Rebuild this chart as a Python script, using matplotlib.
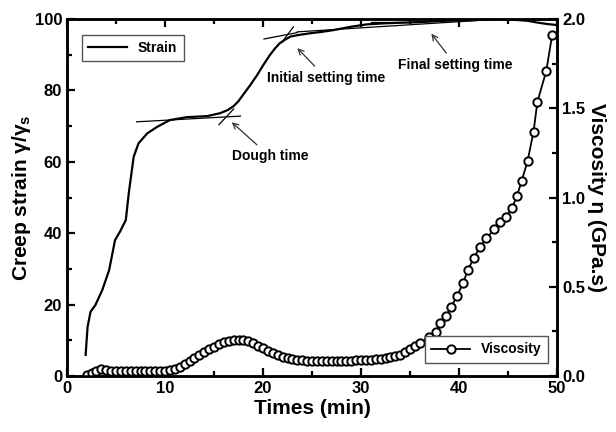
import matplotlib
matplotlib.use("Agg")
import matplotlib.pyplot as plt
from matplotlib.ticker import MultipleLocator, FormatStrFormatter

plt.rcParams["font.family"] = ["Liberation Sans", "DejaVu Sans"]
plt.rcParams["font.weight"] = "bold"
plt.rcParams["mathtext.default"] = "regular"

# creep strain curve (min, gamma/gamma_s)
strain_t = [1.9, 2.0, 2.1, 2.4, 2.9, 3.6, 4.3, 4.9, 5.4, 6.0, 6.3, 6.8, 7.3, 8.2,
            9.2, 10.5, 12.2, 14.3, 15.6, 16.4, 17.0, 17.5, 18.0, 18.7, 19.4, 20.0,
            20.7, 21.2, 21.7, 22.3, 22.8, 23.8, 24.8, 26.0, 27.2, 28.9, 30.6, 32.5,
            34.5, 36.5, 38.5, 40.5, 42.5, 44.0, 45.5, 47.0, 48.0, 49.0, 50.0]
strain = [5.9, 10.0, 13.8, 18.0, 19.9, 24.1, 29.7, 38.1, 40.4, 43.7, 51.2, 61.4,
          65.2, 68.0, 69.8, 71.7, 72.5, 72.8, 73.6, 74.5, 75.6, 77.0, 78.9, 81.5,
          84.3, 87.0, 89.9, 91.7, 93.2, 94.3, 95.1, 95.6, 96.0, 96.4, 96.9, 97.8,
          98.5, 98.8, 99.0, 99.2, 99.5, 99.6, 99.8, 100.0, 99.8, 99.5, 99.0, 98.6, 98.3]

# viscosity (min, GPa.s)
visc_t = [2.0, 2.5, 3.0, 3.5, 4.0, 4.5, 5.0, 5.5, 6.0, 6.5, 7.0, 7.5, 8.0, 8.5,
          9.0, 9.5, 10.0, 10.5, 11.0, 11.5, 12.0, 12.5, 13.0, 13.5, 14.0, 14.5,
          15.0, 15.5, 16.0, 16.5, 17.0, 17.5, 18.0, 18.5, 19.0, 19.5, 20.0, 20.5,
          21.0, 21.5, 22.0, 22.5, 23.0, 23.5, 24.0, 24.5, 25.0, 25.5, 26.0, 26.5,
          27.0, 27.5, 28.0, 28.5, 29.0, 29.5, 30.0, 30.5, 31.0, 31.5, 32.0, 32.5,
          33.0, 33.5, 34.0, 34.5, 35.0, 35.5, 36.0, 36.9, 37.6, 38.1, 38.7, 39.2,
          39.8, 40.4, 40.9, 41.5, 42.1, 42.8, 43.6, 44.2, 44.8, 45.4, 45.9, 46.4,
          47.0, 47.6, 48.0, 48.9, 49.5]
visc = [0.005, 0.015, 0.030, 0.040, 0.033, 0.030, 0.028, 0.027, 0.027, 0.027,
        0.027, 0.027, 0.027, 0.028, 0.028, 0.029, 0.030, 0.032, 0.037, 0.050,
        0.067, 0.083, 0.099, 0.116, 0.133, 0.149, 0.164, 0.177, 0.189, 0.197,
        0.202, 0.204, 0.202, 0.194, 0.183, 0.170, 0.155, 0.140, 0.127, 0.117,
        0.108, 0.101, 0.095, 0.091, 0.088, 0.086, 0.085, 0.084, 0.084, 0.084,
        0.084, 0.084, 0.085, 0.085, 0.086, 0.087, 0.088, 0.089, 0.091, 0.094,
        0.097, 0.100, 0.104, 0.110, 0.120, 0.135, 0.150, 0.167, 0.183, 0.220,
        0.248, 0.295, 0.338, 0.388, 0.448, 0.519, 0.594, 0.659, 0.721, 0.771,
        0.824, 0.864, 0.893, 0.940, 1.008, 1.094, 1.206, 1.369, 1.537, 1.709, 1.910]

# tangent construction lines: (t0, s0, t1, s1)
tangents = [
    (7.1, 71.2, 17.7, 72.8),
    (15.5, 70.4, 17.0, 74.8),
    (20.1, 94.4, 23.5, 96.2),
    (21.9, 93.4, 23.1, 97.8),
    (23.5, 96.4, 42.0, 99.6),
    (31.0, 99.3, 36.0, 99.3),
]

fig = plt.figure(figsize=(6.16, 4.32), dpi=100)
ax = fig.add_axes([0.1088, 0.1296, 0.7955, 0.8264])
ax2 = ax.twinx()

ln1, = ax.plot(strain_t, strain, color="black", lw=1.6, label="Strain")
for t0, s0, t1, s1 in tangents:
    ax.plot([t0, t1], [s0, s1], color="black", lw=0.9)

ln2, = ax2.plot(visc_t, visc, color="black", lw=1.3, marker="o", ms=6.0,
                mfc="white", mec="black", mew=1.4, label="Viscosity")

ax.set_xlim(0, 50)
ax.set_ylim(0, 100)
ax2.set_ylim(0, 2.0)

ax.xaxis.set_major_locator(MultipleLocator(10))
ax.xaxis.set_minor_locator(MultipleLocator(5))
ax.yaxis.set_major_locator(MultipleLocator(20))
ax.yaxis.set_minor_locator(MultipleLocator(10))
ax2.yaxis.set_major_locator(MultipleLocator(0.5))
ax2.yaxis.set_minor_locator(MultipleLocator(0.25))
ax2.yaxis.set_major_formatter(FormatStrFormatter("%.1f"))

ax.tick_params(which="both", direction="in", width=1.6, top=True, right=False,
               labelsize=12)
ax.tick_params(which="major", length=6)
ax.tick_params(which="minor", length=3.5)
ax2.tick_params(which="both", direction="in", width=1.6, labelsize=12)
ax2.tick_params(which="major", length=6)
ax2.tick_params(which="minor", length=3.5)
for sp in list(ax.spines.values()) + list(ax2.spines.values()):
    sp.set_linewidth(1.8)

ax.set_xlabel("Times (min)", fontsize=15, fontweight="bold", labelpad=2)
ax.set_ylabel("Creep strain γ/γ$_\\mathregular{s}$", fontsize=15,
              fontweight="bold", labelpad=1)
ax2.set_ylabel("Viscosity η (GPa.s)", fontsize=15, fontweight="bold",
               rotation=270, labelpad=15)

ax.legend(handles=[ln1], loc="upper left", bbox_to_anchor=(0.016, 0.975),
          fancybox=False, edgecolor="#555555", fontsize=10, handlelength=2.8,
          borderpad=0.45, framealpha=1)
ax2.legend(handles=[ln2], loc="lower right", bbox_to_anchor=(0.996, 0.018),
           fancybox=False, edgecolor="#555555", fontsize=10, handlelength=2.8,
           borderpad=0.45, framealpha=1)

arrow = dict(arrowstyle="->", color="#333333", lw=0.9)
ax.annotate("Dough time", xy=(16.6, 71.6), xytext=(16.8, 61.5), fontsize=10,
            fontweight="bold", ha="left", va="center", arrowprops=arrow)
ax.annotate("Initial setting time", xy=(23.3, 92.4), xytext=(20.4, 83.5),
            fontsize=10, fontweight="bold", ha="left", va="center",
            arrowprops=arrow)
ax.annotate("Final setting time", xy=(37.0, 96.5), xytext=(33.8, 87.1),
            fontsize=10, fontweight="bold", ha="left", va="center",
            arrowprops=arrow)

fig.savefig("out.png", dpi=100)
